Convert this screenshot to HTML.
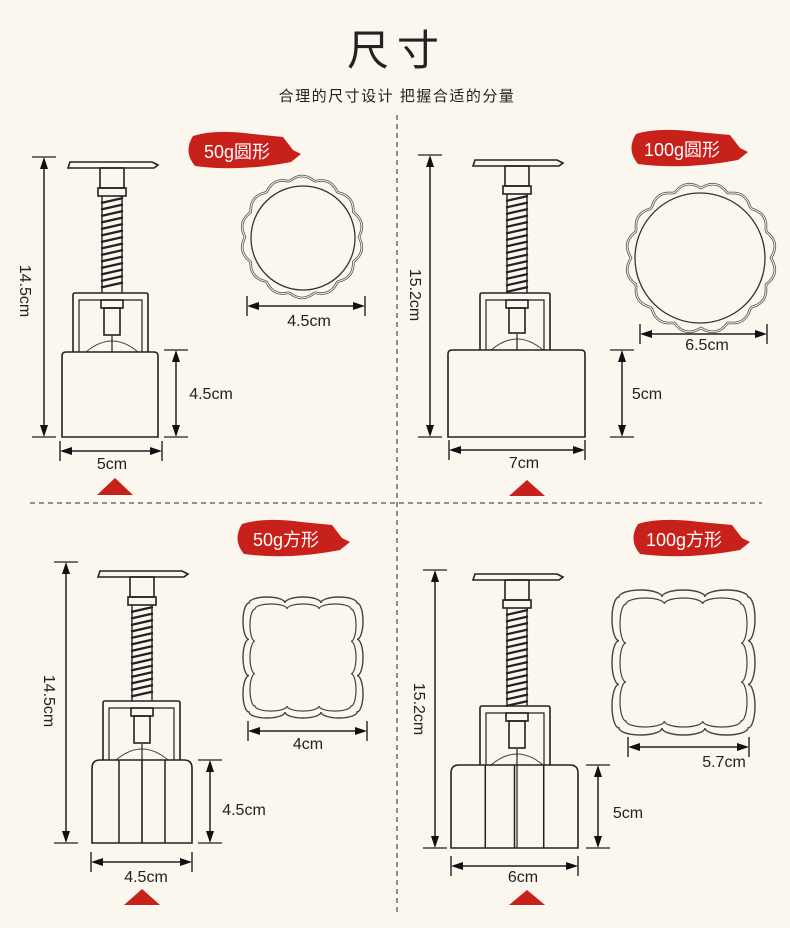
<!DOCTYPE html>
<html><head><meta charset="utf-8"><style>
html,body{margin:0;padding:0;background:#fbf6ee;}
svg{display:block}
text{font-family:"Liberation Sans","Noto Sans CJK SC",sans-serif;fill:#222}
</style></head><body>
<svg id="s" width="790" height="928" viewBox="0 0 790 928" xmlns="http://www.w3.org/2000/svg">
<rect width="790" height="928" fill="#fbf6ee"/>
<text x="397" y="65" text-anchor="middle" font-size="42" style="font-family:'Noto Sans CJK SC',sans-serif" letter-spacing="8">尺寸</text>
<text x="397" y="101" text-anchor="middle" font-size="15" letter-spacing="1.5">合理的尺寸设计 把握合适的分量</text>
<line x1="397" y1="115" x2="397" y2="912" stroke="#555" stroke-width="1.3" stroke-dasharray="5,4"/>
<line x1="30" y1="503" x2="762" y2="503" stroke="#555" stroke-width="1.3" stroke-dasharray="5,4"/>
<g id="g"></g>
</svg>
<script>
var out='';
var S='stroke="#222" fill="none" stroke-width="1.6"';
function arrowV(x,y1,y2){return `<line x1="${x}" y1="${y1+6}" x2="${x}" y2="${y2-6}" stroke="#222" stroke-width="1.5"/>
<polygon points="${x},${y1} ${x-4},${y1+12} ${x+4},${y1+12}" fill="#111"/><polygon points="${x},${y2} ${x-4},${y2-12} ${x+4},${y2-12}" fill="#111"/>
<line x1="${x-12}" y1="${y1}" x2="${x+12}" y2="${y1}" stroke="#222" stroke-width="1.2"/><line x1="${x-12}" y1="${y2}" x2="${x+12}" y2="${y2}" stroke="#222" stroke-width="1.2"/>`;}
function arrowH(y,x1,x2){return `<line x1="${x1+6}" y1="${y}" x2="${x2-6}" y2="${y}" stroke="#222" stroke-width="1.5"/>
<polygon points="${x1},${y} ${x1+12},${y-4} ${x1+12},${y+4}" fill="#111"/><polygon points="${x2},${y} ${x2-12},${y-4} ${x2-12},${y+4}" fill="#111"/>
<line x1="${x1}" y1="${y-10}" x2="${x1}" y2="${y+10}" stroke="#222" stroke-width="1.4"/><line x1="${x2}" y1="${y-10}" x2="${x2}" y2="${y+10}" stroke="#222" stroke-width="1.4"/>`;}
function mold(cx,top,bx1,bx2,by1,by2,fx1,fx2,fy,square){
 var s='';
 s+=`<path d="M${cx-44},${top+6} L${cx-42},${top} L${cx+40},${top} L${cx+46},${top+3} L${cx+42},${top+6} Z" ${S} fill="#fff"/>`;
 s+=`<rect x="${cx-12}" y="${top+6}" width="24" height="20" ${S}/>`;
 s+=`<rect x="${cx-14}" y="${top+26}" width="28" height="8" ${S}/>`;
 var sb=top+34, se=fy;
 s+=`<line x1="${cx-10}" y1="${sb}" x2="${cx-10}" y2="${se}" stroke="#222" stroke-width="1.4"/><line x1="${cx+10}" y1="${sb}" x2="${cx+10}" y2="${se}" stroke="#222" stroke-width="1.4"/>`;
 for(var y=sb+4;y<se-2;y+=6.5){s+=`<line x1="${cx-11}" y1="${y+3}" x2="${cx+11}" y2="${y-2}" stroke="#222" stroke-width="2.2"/>`;}
 s+=`<path d="M${fx1},${by1} L${fx1},${fy+2} Q${fx1},${fy} ${fx1+2},${fy} L${fx2-2},${fy} Q${fx2},${fy} ${fx2},${fy+2} L${fx2},${by1}" ${S}/>`;
 s+=`<path d="M${fx1+6},${by1} L${fx1+6},${fy+7} L${fx2-6},${fy+7} L${fx2-6},${by1}" stroke="#222" fill="none" stroke-width="1.2"/>`;
 s+=`<rect x="${cx-11}" y="${fy+7}" width="22" height="8" ${S}/>`;
 s+=`<rect x="${cx-8}" y="${fy+15}" width="16" height="${(by1-fy)-32}" ${S}/>`;
 s+=`<path d="M${cx-26},${by1} Q${cx},${by1-22} ${cx+26},${by1}" stroke="#444" fill="none" stroke-width="1"/>`;
 s+=`<line x1="${cx}" y1="${by1-16}" x2="${cx}" y2="${square?by2:by1}" stroke="#222" stroke-width="1.2"/>`;
 if(square){
  s+=`<path d="M${bx1},${by2} L${bx1},${by1+8} Q${bx1},${by1} ${bx1+8},${by1} L${bx2-8},${by1} Q${bx2},${by1} ${bx2},${by1+8} L${bx2},${by2} Z" ${S} fill="#fbf6ee"/>`;
  var w=bx2-bx1;
  [0.27,0.5,0.73].forEach(f=>{var x=bx1+w*f;s+=`<line x1="${x}" y1="${by1}" x2="${x}" y2="${by2}" stroke="#222" stroke-width="1.5"/>`;});
 } else {
  s+=`<path d="M${bx1},${by2} L${bx1},${by1+4} Q${bx1},${by1} ${bx1+4},${by1} L${bx2-4},${by1} Q${bx2},${by1} ${bx2},${by1+4} L${bx2},${by2} Z" ${S} fill="#fbf6ee"/>`;
 }
 return s;
}
function label(x,y,w,t){return `<path d="M${x+8},${y+4} Q${x+30},${y-3} ${x+w*0.6},${y+2} L${x+w-14},${y+5} L${x+w-4},${y+18} L${x+w+4},${y+22} L${x+w-6},${y+30} Q${x+w*0.5},${y+40} ${x+10},${y+34} Q${x-2},${y+20} ${x+8},${y+4} Z" fill="#c8201a"/>
<text x="${x+w/2-4}" y="${y+26}" text-anchor="middle" font-size="18" style="fill:#fff">${t}</text>`;}
function scallopCircle(cx,cy,r,n,a){var d='';for(var i=0;i<=360;i+=2){var t=i*Math.PI/180;var rr=r+a*Math.abs(Math.sin(t*n/2));d+=(i?'L':'M')+(cx+rr*Math.cos(t)).toFixed(1)+','+(cy+rr*Math.sin(t)).toFixed(1);}return d+'Z';}
function scallopSquare(x1,y1,x2,y2,n,a){
 var d='M'+x1+','+y1;var w=(x2-x1)/n,h=(y2-y1)/n;
 for(var i=0;i<n;i++)d+=` A${w/2},${a} 0 0 1 ${x1+(i+1)*w},${y1}`;
 for(var i=0;i<n;i++)d+=` A${a},${h/2} 0 0 1 ${x2},${y1+(i+1)*h}`;
 for(var i=0;i<n;i++)d+=` A${w/2},${a} 0 0 1 ${x2-(i+1)*w},${y2}`;
 for(var i=0;i<n;i++)d+=` A${a},${h/2} 0 0 1 ${x1},${y2-(i+1)*h}`;
 return d+'Z';}
function tri(x,y1,y2){return `<polygon points="${x},${y1} ${x-18},${y2} ${x+18},${y2}" fill="#c8201a"/>`;}
function vtext(x,y,t){return `<text x="${x}" y="${y}" text-anchor="middle" font-size="16" transform="rotate(90 ${x} ${y})">${t}</text>`;}
function t(x,y,s){return `<text x="${x}" y="${y}" text-anchor="middle" font-size="16">${s}</text>`;}

out+=mold(112,162,62,158,352,437,73,148,293,false);
out+=arrowV(44,157,437)+vtext(20,291,'14.5cm');
out+=arrowV(176,350,437)+t(211,399,'4.5cm');
out+=arrowH(451,60,162)+t(112,469,'5cm')+tri(115,478,495);
out+=label(185,132,112,'50g圆形');
out+=`<path d="${scallopCircle(302,237,57,14,4)}" stroke="#555" fill="none" stroke-width="2.6"/><path d="${scallopCircle(302,237,57,14,4)}" stroke="#fbf6ee" fill="none" stroke-width="1"/>`;
out+=`<circle cx="303" cy="238" r="52" stroke="#333" fill="none" stroke-width="1.3"/>`;
out+=arrowH(306,247,365)+t(309,326,'4.5cm');

out+=mold(517,160,448,585,350,437,480,550,293,false);
out+=arrowV(430,155,437)+vtext(410,295,'15.2cm');
out+=arrowV(622,350,437)+t(647,399,'5cm');
out+=arrowH(450,449,585)+t(524,468,'7cm')+tri(527,480,496);
out+=label(628,130,116,'100g圆形');
out+=`<path d="${scallopCircle(701,258,70,16,5)}" stroke="#555" fill="none" stroke-width="2.6"/><path d="${scallopCircle(701,258,70,16,5)}" stroke="#fbf6ee" fill="none" stroke-width="1"/>`;
out+=`<circle cx="700" cy="258" r="65" stroke="#333" fill="none" stroke-width="1.3"/>`;
out+=arrowH(334,640,767)+t(707,350,'6.5cm');

out+=mold(142,571,92,192,760,843,103,180,701,true);
out+=arrowV(66,562,843)+vtext(44,701,'14.5cm');
out+=arrowV(210,760,843)+t(244,815,'4.5cm');
out+=arrowH(862,91,192)+t(146,882,'4.5cm')+tri(142,889,905);
out+=label(234,520,112,'50g方形');
out+=`<path d="${scallopSquare(249,603,357,712,3,6)}" stroke="#444" fill="none" stroke-width="1.4"/><path d="${scallopSquare(255,609,351,706,3,5)}" stroke="#444" fill="none" stroke-width="1.2"/>`;
out+=arrowH(731,248,367)+t(308,749,'4cm');

out+=mold(517,574,451,578,765,848,480,550,706,true);
out+=arrowV(435,570,848)+vtext(414,709,'15.2cm');
out+=arrowV(598,765,848)+t(628,818,'5cm');
out+=arrowH(866,451,578)+t(523,882,'6cm')+tri(527,890,905);
out+=label(630,520,116,'100g方形');
out+=`<path d="${scallopSquare(619,597,748,728,3,7)}" stroke="#444" fill="none" stroke-width="1.4"/><path d="${scallopSquare(626,604,741,721,3,6)}" stroke="#444" fill="none" stroke-width="1.2"/>`;
out+=arrowH(747,628,749)+t(724,767,'5.7cm');

document.getElementById('g').innerHTML=out;
</script>
</body></html>
